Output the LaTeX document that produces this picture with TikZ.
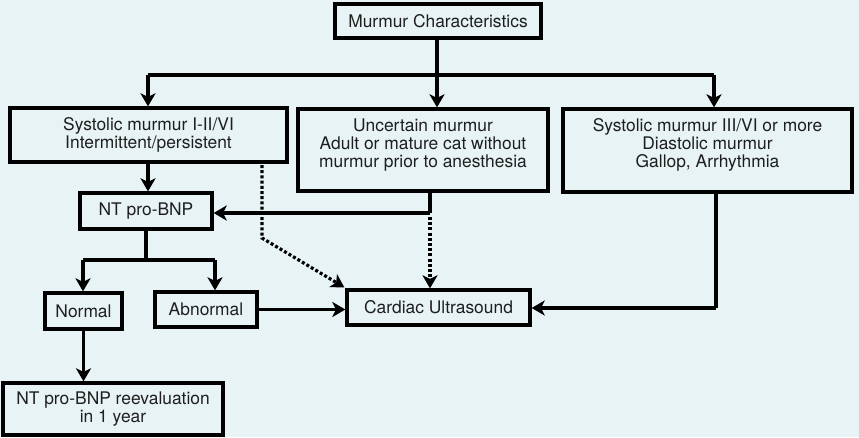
\documentclass[tikz,border=0pt]{standalone}
\usepackage{fontspec}
\setmainfont{TeX Gyre Heros}
\usetikzlibrary{arrows.meta}
\definecolor{bg}{RGB}{231,243,245}
\definecolor{txt}{RGB}{30,30,30}
\begin{document}
\begin{tikzpicture}[x=1pt,y=-1pt,
  box/.style={draw=black,line width=3.3pt,fill=bg,text=txt,align=center,inner sep=0pt,
    font=\fontsize{17.4}{18.3}\selectfont},
  lbl/.style={text=txt,align=center,inner sep=0pt,font=\fontsize{17.4}{18.3}\selectfont},
  arr/.style={line width=3.2pt,-{Stealth[length=13pt,width=15pt,inset=3.5pt]}},
  ln/.style={line width=3.2pt},
  dotarr/.style={line width=3.2pt,dash pattern=on 3pt off 2.2pt,-{Stealth[length=13pt,width=15pt,inset=3.5pt]}}]
\fill[bg] (0,0) rectangle (859,437);
\useasboundingbox (0,0) rectangle (859,437);

\node[box,minimum width=206pt,minimum height=34pt] (top) at (438,21) {Murmur Characteristics};
\node[box,minimum width=277pt,minimum height=54pt] (box1) at (148.5,135) {Systolic murmur I-II/VI\\Intermittent/persistent};
\node[box,minimum width=250pt,minimum height=82pt] (box2) at (423,150) {};
\node[lbl] (box2t) at (423,145) {Uncertain murmur\\Adult or mature cat without\\murmur prior to anesthesia};
\node[box,minimum width=289pt,minimum height=83pt] (box3) at (707.5,150.5) {};
\node[lbl] (box3t) at (707.5,145) {Systolic murmur III/VI or more\\Diastolic murmur\\Gallop, Arrhythmia};
\node[box,minimum width=132pt,minimum height=36pt] (nt) at (146,211) {NT pro-BNP};
\node[box,minimum width=77pt,minimum height=36pt] (normal) at (83.5,311) {Normal};
\node[box,minimum width=102pt,minimum height=35pt] (abn) at (206,309.5) {Abnormal};
\node[box,minimum width=183pt,minimum height=35pt] (card) at (438.5,307.5) {Cardiac Ultrasound};
\node[box,minimum width=220pt,minimum height=52pt] (reev) at (113,409) {NT pro-BNP reevaluation\\in 1 year};

\coordinate (bus) at (437,75);
\coordinate (busL) at (148,75);
\coordinate (busR) at (714,75);
\draw[ln] (top.south -| bus) -- (bus);
\draw[ln] (busL) -- (busR);
\draw[arr] (busL) -- (busL |- box1.north);
\draw[arr] (bus) -- (bus |- box2.north);
\draw[arr] (busR) -- (busR |- box3.north);

\draw[arr] (box1.south -| 148,0) -- (148,0 |- nt.north);
\coordinate (b2s) at (430,213);
\draw[ln] (box2.south -| b2s) -- (b2s);
\draw[arr] (b2s) -- (b2s -| nt.east);

\coordinate (d2) at (430,217);
\draw[dotarr] (d2) -- (d2 |- card.north);
\coordinate (d1a) at (262,165);
\coordinate (d1b) at (262,238);
\draw[dotarr] (d1a) -- (d1b) -- ([xshift=-1pt,yshift=1pt]card.north west);

\coordinate (split) at (146,260);
\coordinate (splitL) at (83,260);
\coordinate (splitR) at (215,260);
\draw[ln] (nt.south -| split) -- (split);
\draw[ln] (splitL) -- (splitR);
\draw[arr] (splitL) -- (splitL |- normal.north);
\draw[arr] (splitR) -- (splitR |- abn.north);

\draw[arr] (normal.south) -- (normal.south |- reev.north);
\draw[arr] (abn.east) -- (abn.east -| card.west);

\coordinate (b3s) at (716,308);
\draw[ln] (box3.south -| b3s) -- (b3s);
\draw[arr] (b3s) -- (b3s -| card.east);
\end{tikzpicture}
\end{document}
